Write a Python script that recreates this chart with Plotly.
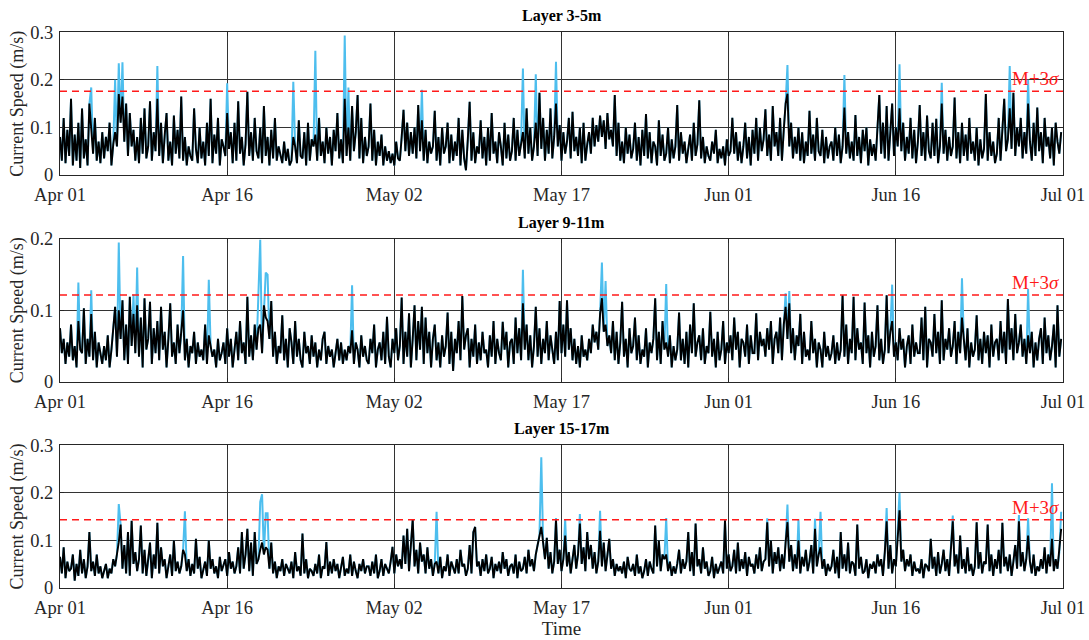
import pandas as pd
import plotly.graph_objects as go

# ---------------------------------------------------------------------------
# Current speed records, 4-hourly from 2021-04-01, in mm/s (one row per day).
# "clean" = despiked series, spikes = raw samples flagged above M+3sigma.
# ---------------------------------------------------------------------------
layer_titles = ["Layer 3-5m", "Layer 9-11m", "Layer 15-17m"]

speed_3_5 = [
    80, 30, 120, 25, 95, 40,
    160, 20, 85, 30, 110, 15,
    140, 35, 75, 20, 150, 95,
    45, 120, 30, 70, 25, 90,
    35, 80, 50, 110, 20, 65,
    90, 60, 170, 110, 165, 70,
    150, 40, 130, 60, 95, 30,
    80, 25, 120, 45, 140, 35,
    60, 155, 30, 90, 50, 160,
    40, 110, 25, 85, 130, 30,
    70, 20, 125, 45, 95, 35,
    165, 30, 80, 20, 60, 40,
    30, 140, 55, 25, 100, 35,
    70, 20, 110, 40, 160, 25,
    85, 45, 120, 20, 75, 60,
    40, 130, 55, 90, 25, 110,
    30, 155, 45, 80, 20, 65,
    175, 40, 90, 30, 120, 50,
    35, 100, 25, 145, 40, 80,
    20, 95, 35, 120, 30, 60,
    45, 25, 70, 30, 55, 20,
    30, 80, 60, 25, 115, 40,
    35, 90, 20, 110, 30, 75,
    60, 85, 30, 120, 40, 70,
    25, 100, 45, 80, 20, 95,
    50, 130, 35, 75, 25, 160,
    40, 100, 30, 145, 50, 90,
    168, 35, 120, 25, 80, 40,
    60, 150, 30, 95, 20, 70,
    40, 85, 20, 60, 30, 50,
    25, 45, 20, 70, 35, 30,
    80, 137, 50, 110, 40, 90,
    45, 100, 35, 147, 50, 115,
    30, 95, 25, 70, 45, 60,
    135, 30, 80, 20, 100, 45,
    60, 110, 25, 85, 30, 70,
    40, 120, 20, 95, 35, 10,
    75, 154, 30, 90, 25, 60,
    45, 115, 35, 80, 20, 100,
    30, 130, 45, 70, 25, 90,
    60, 20, 110, 35, 85, 30,
    50, 120, 30, 95, 40, 70,
    90, 35, 140, 45, 100, 30,
    60, 110, 40, 173, 55, 120,
    30, 95, 45, 140, 35, 80,
    150, 60, 105, 30, 90, 45,
    70, 120, 35, 133, 50, 80,
    40, 100, 25, 110, 30, 65,
    90, 45, 120, 60, 105, 70,
    125, 80, 115, 55, 130, 75,
    95, 60, 168, 40, 110, 30,
    70, 25, 100, 45, 85, 35,
    55, 110, 30, 80, 20, 95,
    40, 128, 35, 90, 25, 70,
    60, 20, 115, 40, 85, 30,
    45, 100, 25, 75, 35, 60,
    147, 30, 90, 45, 70, 25,
    50, 85, 30, 110, 40, 65,
    157, 35, 80, 25, 60, 40,
    30, 70, 45, 95, 25, 55,
    35, 60, 20, 75, 40, 50,
    120, 45, 90, 30, 70, 25,
    60, 110, 35, 80, 20, 95,
    45, 120, 30, 100, 50, 75,
    138, 40, 85, 30, 145, 60,
    90, 40, 120, 30, 95, 150,
    171, 60, 110, 35, 80, 45,
    100, 30, 90, 25, 70, 40,
    135, 45, 85, 30, 120, 50,
    40, 95, 25, 80, 35, 60,
    70, 30, 100, 40, 85, 25,
    60, 142, 45, 90, 35, 70,
    30, 126, 40, 80, 25, 95,
    50, 100, 20, 75, 40, 65,
    30, 90, 168, 45, 110, 35,
    145, 30, 85, 150, 40, 100,
    60, 140, 50, 110, 30, 80,
    45, 120, 35, 95, 25, 70,
    147, 40, 90, 30, 125, 50,
    35, 110, 40, 118, 25, 60,
    150, 45, 95, 30, 80, 40,
    60, 163, 35, 90, 25, 110,
    40, 85, 30, 120, 45, 70,
    30, 100, 20, 75, 35, 55,
    170, 30, 90, 40, 70, 25,
    45, 120, 30, 95, 160, 50,
    75, 140, 55, 173, 40, 100,
    60, 120, 35, 90, 45, 150,
    70, 30, 110, 40, 142, 50,
    90, 25, 120, 60, 80, 35,
    100, 20, 110, 70, 45, 90,
]

speed_9_11 = [
    75, 40, 60, 25, 55, 35,
    80, 30, 50, 20, 85, 45,
    40, 103, 25, 60, 35, 95,
    30, 70, 20, 55, 40, 25,
    50, 30, 65, 20, 45, 75,
    105, 35, 100, 60, 114, 30,
    80, 25, 119, 50, 95, 40,
    107, 35, 90, 20, 117, 45,
    60, 112, 25, 75, 40, 85,
    30, 105, 45, 70, 20, 60,
    110, 35, 55, 25, 80, 40,
    65, 100, 30, 60, 20, 50,
    40, 70, 25, 55, 35, 45,
    30, 80, 25, 65, 50, 35,
    45, 20, 60, 30, 40, 55,
    25, 75, 35, 60, 20, 45,
    70, 30, 85, 40, 55, 25,
    119, 35, 65, 30, 80, 45,
    75, 80, 40, 107, 90, 85,
    60, 113, 35, 70, 25, 50,
    40, 93, 30, 60, 20, 75,
    55, 25, 85, 35, 60, 30,
    20, 70, 40, 50, 25, 65,
    35, 55, 20, 45, 30, 60,
    70, 25, 50, 35, 45, 20,
    40, 60, 30, 55, 25, 45,
    30, 50, 40, 72, 25, 55,
    45, 20, 65, 35, 50, 30,
    25, 60, 40, 80, 20, 45,
    55, 30, 70, 25, 91, 35,
    20, 60, 40, 75, 30, 50,
    118, 25, 70, 35, 96, 20,
    60, 107, 30, 85, 45, 105,
    25, 90, 40, 70, 20, 60,
    80, 30, 55, 20, 65, 35,
    50, 97, 25, 70, 15, 60,
    40, 85, 30, 120, 45, 65,
    75, 20, 60, 35, 80, 25,
    55, 30, 70, 40, 45, 20,
    65, 35, 85, 25, 60, 40,
    30, 84, 45, 70, 20, 55,
    60, 25, 90, 40, 75, 30,
    110, 45, 80, 30, 65, 20,
    50, 105, 35, 75, 25, 60,
    40, 85, 30, 65, 45, 25,
    70, 30, 113, 40, 80, 35,
    114, 45, 75, 30, 60, 25,
    50, 20, 65, 35, 45, 30,
    60, 40, 80, 55, 70, 45,
    95, 117, 70, 80, 50, 65,
    40, 85, 30, 70, 25, 55,
    112, 35, 60, 20, 75, 40,
    50, 90, 30, 65, 25, 45,
    35, 75, 20, 55, 40, 60,
    117, 30, 70, 25, 85, 45,
    55, 35, 65, 20, 50, 30,
    45, 97, 30, 60, 25, 70,
    20, 80, 40, 110, 35, 55,
    65, 30, 75, 25, 50, 40,
    98, 35, 60, 20, 70, 30,
    45, 85, 25, 55, 40, 65,
    30, 90, 45, 70, 20, 60,
    55, 35, 80, 25, 65, 40,
    40, 96, 30, 70, 50, 60,
    35, 75, 45, 85, 25, 60,
    70, 40, 90, 30, 80, 105,
    60, 110, 40, 75, 30, 65,
    50, 95, 25, 70, 35, 45,
    30, 85, 40, 60, 20, 55,
    45, 20, 70, 35, 50, 30,
    40, 65, 25, 55, 30, 45,
    121, 35, 80, 25, 60, 40,
    119, 30, 75, 45, 55, 25,
    111, 40, 65, 20, 70, 35,
    50, 107, 30, 60, 25, 45,
    121, 40, 70, 85, 35, 55,
    30, 75, 45, 60, 20, 50,
    65, 25, 80, 35, 55, 40,
    40, 90, 30, 105, 20, 60,
    55, 35, 95, 40, 70, 25,
    114, 30, 60, 45, 75, 35,
    50, 85, 25, 70, 40, 90,
    60, 30, 75, 20, 55, 35,
    45, 93, 30, 60, 25, 70,
    40, 65, 20, 80, 35, 55,
    60, 30, 85, 40, 70, 25,
    116, 45, 75, 30, 95, 40,
    55, 80, 35, 60, 25, 65,
    40, 70, 20, 55, 30, 60,
    75, 25, 90, 40, 65, 30,
    50, 80, 20, 107, 35, 60,
]

speed_15_17 = [
    65, 30, 85, 20, 55, 35,
    40, 70, 15, 50, 25, 80,
    30, 60, 20, 45, 117, 35,
    55, 25, 70, 30, 45, 20,
    35, 50, 20, 40, 30, 60,
    45, 70, 96, 133, 40, 90,
    30, 117, 25, 141, 50, 75,
    35, 60, 131, 30, 80, 25,
    55, 95, 20, 70, 40, 137,
    30, 85, 45, 60, 20, 50,
    70, 25, 100, 35, 55, 30,
    45, 80, 70, 35, 60, 25,
    50, 30, 103, 40, 65, 20,
    35, 55, 25, 100, 40, 60,
    30, 45, 20, 65, 35, 50,
    60, 25, 75, 40, 55, 30,
    45, 85, 30, 117, 40, 70,
    124, 35, 95, 25, 117, 50,
    60, 80, 95, 70, 85, 80,
    40, 95, 30, 55, 20, 45,
    35, 60, 25, 50, 40, 30,
    55, 20, 75, 35, 45, 25,
    114, 30, 60, 20, 40, 35,
    25, 50, 30, 70, 20, 45,
    40, 96, 25, 55, 30, 60,
    35, 50, 20, 45, 65, 25,
    40, 30, 70, 25, 55, 35,
    20, 50, 35, 60, 30, 45,
    45, 25, 55, 30, 70, 20,
    35, 60, 25, 50, 40, 30,
    55, 86, 30, 70, 45, 60,
    40, 110, 50, 124, 35, 90,
    144, 45, 80, 30, 95, 55,
    70, 30, 85, 40, 60, 25,
    50, 55, 30, 65, 20, 45,
    35, 70, 25, 55, 40, 30,
    60, 30, 80, 45, 50, 25,
    40, 90, 30, 117, 128, 45,
    55, 25, 60, 35, 70, 30,
    40, 65, 20, 50, 35, 55,
    30, 75, 40, 60, 25, 45,
    50, 30, 70, 20, 55, 35,
    40, 65, 30, 80, 45, 60,
    35, 70, 90, 110, 128, 95,
    60, 105, 40, 75, 30, 55,
    142, 50, 80, 35, 60, 110,
    45, 75, 30, 60, 90, 40,
    70, 135, 50, 85, 35, 117,
    60, 90, 40, 75, 30, 55,
    120, 45, 95, 35, 70, 103,
    40, 60, 25, 50, 35, 45,
    30, 55, 20, 65, 40, 35,
    50, 25, 70, 30, 45, 20,
    35, 60, 25, 55, 40, 30,
    131, 45, 100, 35, 70, 60,
    70, 35, 55, 25, 45, 30,
    50, 80, 30, 60, 40, 55,
    117, 35, 75, 25, 135, 45,
    60, 30, 85, 40, 55, 25,
    35, 65, 20, 50, 30, 45,
    55, 30, 142, 40, 70, 35,
    45, 80, 30, 95, 35, 60,
    40, 75, 25, 65, 45, 50,
    30, 70, 40, 85, 35, 55,
    60, 138, 45, 100, 30, 75,
    50, 85, 35, 70, 40, 95,
    138, 55, 90, 35, 70, 40,
    100, 30, 65, 45, 80, 35,
    55, 90, 30, 124, 45, 70,
    85, 40, 60, 25, 50, 35,
    45, 80, 30, 65, 20, 117,
    40, 70, 35, 95, 30, 55,
    50, 25, 133, 40, 65, 30,
    35, 60, 20, 50, 40, 55,
    30, 70, 45, 60, 25, 75,
    140, 40, 90, 30, 60, 45,
    110, 163, 55, 80, 35, 60,
    45, 70, 25, 55, 35, 40,
    30, 60, 20, 50, 45, 35,
    103, 40, 65, 25, 75, 30,
    50, 80, 35, 60, 25, 90,
    140, 45, 70, 30, 110, 40,
    60, 30, 85, 35, 50, 25,
    45, 138, 40, 75, 30, 55,
    50, 133, 35, 70, 25, 60,
    40, 80, 30, 137, 45, 65,
    35, 70, 25, 55, 90, 40,
    140, 45, 75, 35, 60, 110,
    55, 30, 70, 25, 45, 35,
    60, 40, 85, 30, 70, 45,
    103, 35, 60, 40, 75, 124,
]

# Raw spikes (time, speed in m/s) removed from each record
spike_times_3_5 = [
    "2021-04-03 20:00", "2021-04-06 00:00", "2021-04-06 08:00", "2021-04-06 16:00",
    "2021-04-09 20:00", "2021-04-16 04:00", "2021-04-22 04:00", "2021-04-24 04:00",
    "2021-04-26 20:00", "2021-04-27 04:00", "2021-05-03 20:00", "2021-05-13 00:00",
    "2021-05-14 04:00", "2021-05-16 00:00", "2021-06-06 00:00", "2021-06-11 04:00",
    "2021-06-16 04:00", "2021-06-20 00:00", "2021-06-26 04:00", "2021-06-27 20:00",
]
spike_vals_3_5 = [
    0.184, 0.200, 0.235, 0.237, 0.229, 0.193, 0.196, 0.261, 0.293, 0.184,
    0.179, 0.224, 0.212, 0.238, 0.231, 0.210, 0.233, 0.194, 0.229, 0.200,
]

spike_times_9_11 = [
    "2021-04-02 16:00", "2021-04-03 20:00", "2021-04-06 08:00", "2021-04-07 16:00",
    "2021-04-08 00:00", "2021-04-12 04:00", "2021-04-14 12:00", "2021-04-19 00:00",
    "2021-04-19 04:00", "2021-04-19 16:00", "2021-04-19 20:00", "2021-04-27 12:00",
    "2021-05-13 00:00", "2021-05-20 04:00", "2021-05-20 12:00", "2021-05-26 00:00",
    "2021-06-05 20:00", "2021-06-06 04:00", "2021-06-15 12:00", "2021-06-21 20:00",
    "2021-06-27 20:00",
]
spike_vals_9_11 = [
    0.139, 0.128, 0.195, 0.122, 0.160, 0.176, 0.143, 0.125, 0.199, 0.153,
    0.150, 0.135, 0.157, 0.167, 0.141, 0.137, 0.124, 0.127, 0.136, 0.145,
    0.130,
]

spike_times_15_17 = [
    "2021-04-06 08:00", "2021-04-12 08:00", "2021-04-19 04:00", "2021-04-19 08:00",
    "2021-04-19 16:00", "2021-04-19 20:00", "2021-05-05 04:00", "2021-05-14 16:00",
    "2021-05-16 00:00", "2021-05-16 20:00", "2021-05-18 04:00", "2021-05-20 00:00",
    "2021-05-26 00:00", "2021-06-04 04:00", "2021-06-06 00:00", "2021-06-07 00:00",
    "2021-06-08 12:00", "2021-06-09 00:00", "2021-06-15 00:00", "2021-06-16 04:00",
    "2021-06-21 00:00", "2021-06-27 00:00", "2021-06-27 20:00", "2021-06-30 00:00",
    "2021-06-30 20:00",
]
spike_vals_15_17 = [
    0.176, 0.161, 0.181, 0.197, 0.157, 0.157, 0.160, 0.275, 0.147, 0.144,
    0.155, 0.162, 0.147, 0.146, 0.175, 0.144, 0.145, 0.160, 0.168, 0.200,
    0.152, 0.153, 0.146, 0.220, 0.160,
]

# Detection thresholds (mean + 3 standard deviations), m/s
thresholds = [0.176, 0.1215, 0.143]

y_max = [0.3, 0.2, 0.3]
y_ticks = [[0, 0.1, 0.2, 0.3], [0, 0.1, 0.2], [0, 0.1, 0.2, 0.3]]
x_tick_labels = ["Apr 01", "Apr 16", "May 02", "May 17", "Jun 01", "Jun 16", "Jul 01"]

start = pd.Timestamp("2021-04-01 00:00")
end = pd.Timestamp("2021-07-01 00:00")

series = [speed_3_5, speed_9_11, speed_15_17]
spike_times = [spike_times_3_5, spike_times_9_11, spike_times_15_17]
spike_vals = [spike_vals_3_5, spike_vals_9_11, spike_vals_15_17]

FONT = "Liberation Serif, Times New Roman, serif"
TXT = "#262626"
W, H = 1089, 640
x0_px, x1_px = 60, 1063
panel_px = [(32.3, 175.0), (239.0, 381.7), (445.3, 587.7)]  # top, bottom

fig = go.Figure()
tickvals = [start + k * (end - start) / 6 for k in range(7)]

for i in range(3):
    clean = [v / 1000.0 for v in series[i]]
    times = pd.date_range(start, periods=len(clean), freq="4h")
    raw = list(clean)
    for t, v in zip(spike_times[i], spike_vals[i]):
        raw[times.get_loc(pd.Timestamp(t))] = v

    xa = "x" if i == 0 else f"x{i + 1}"
    ya = "y" if i == 0 else f"y{i + 1}"

    fig.add_trace(go.Scatter(x=times, y=raw, mode="lines", xaxis=xa, yaxis=ya,
                             line=dict(color="#4DBEEE", width=2.0),
                             showlegend=False, hoverinfo="skip"))
    fig.add_trace(go.Scatter(x=times, y=clean, mode="lines", xaxis=xa, yaxis=ya,
                             line=dict(color="#000000", width=1.9),
                             showlegend=False))
    fig.add_trace(go.Scatter(x=[start, end], y=[thresholds[i], thresholds[i]],
                             mode="lines", xaxis=xa, yaxis=ya,
                             line=dict(color="#FF1A1A", width=1.4, dash="7px,5px"),
                             showlegend=False, hoverinfo="skip"))

    top, bot = panel_px[i]
    dom_y = [1 - bot / H, 1 - top / H]
    axis_common = dict(showline=True, linecolor=TXT, linewidth=1, mirror="ticks",
                       ticks="inside", ticklen=4, tickcolor=TXT,
                       showgrid=True, gridcolor="#333333", gridwidth=1,
                       zeroline=False, automargin=False,
                       tickfont=dict(family=FONT, size=18.5, color=TXT))
    xkey = "xaxis" if i == 0 else f"xaxis{i + 1}"
    ykey = "yaxis" if i == 0 else f"yaxis{i + 1}"
    fig.layout[xkey] = dict(axis_common, domain=[x0_px / W, x1_px / W],
                            anchor=ya, type="date", range=[start, end],
                            tickvals=tickvals, ticktext=x_tick_labels,
                            ticklabelstandoff=3)
    fig.layout[ykey] = dict(axis_common, domain=dom_y, anchor=xa,
                            range=[0, y_max[i]], tickvals=y_ticks[i],
                            ticktext=[f"{v:g}" for v in y_ticks[i]],
                            ticklabelstandoff=2,
                            title=dict(text="Current Speed (m/s)", standoff=1,
                                       font=dict(family=FONT, size=18, color=TXT)))

    fig.add_annotation(text=f"<b>{layer_titles[i]}</b>", xref="paper", yref="paper",
                       x=(x0_px + x1_px) / 2 / W, y=dom_y[1], yanchor="bottom",
                       xanchor="center", yshift=5, showarrow=False,
                       font=dict(family=FONT, size=16, color="#000000"))
    fig.add_annotation(text="M+3<i>σ</i>", xref=f"{xa} domain", yref=ya,
                       x=1, y=thresholds[i], xanchor="right", yanchor="bottom",
                       xshift=-2, yshift=0, showarrow=False,
                       font=dict(family=FONT, size=19, color="#FF1A1A"))

fig.layout.xaxis3.title = dict(text="Time", standoff=2,
                               font=dict(family=FONT, size=19, color=TXT))

fig.update_layout(width=W, height=H, margin=dict(l=0, r=0, t=0, b=0),
                  plot_bgcolor="white", paper_bgcolor="white",
                  font=dict(family=FONT))

fig.write_html("out.html")
